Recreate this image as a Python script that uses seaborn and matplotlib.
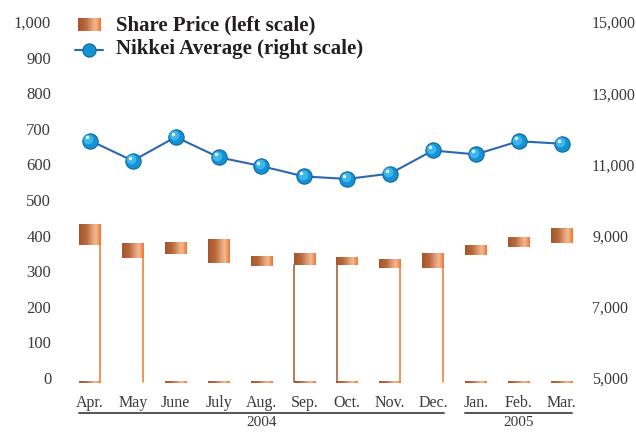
import numpy as np
import pandas as pd
import matplotlib
matplotlib.use('Agg')
import matplotlib.pyplot as plt
import seaborn as sns
from matplotlib.colors import LinearSegmentedColormap
from matplotlib.transforms import ScaledTranslation, blended_transform_factory

months = ['Apr.', 'May', 'June', 'July', 'Aug.', 'Sep.', 'Oct.', 'Nov.', 'Dec.', 'Jan.', 'Feb.', 'Mar.']
years = ['2004'] * 9 + ['2005'] * 3
price_low = [372, 338, 349, 324, 315, 318, 318, 310, 310, 346, 369, 380]
price_high = [430, 379, 382, 390, 343, 351, 340, 334, 351, 374, 396, 421]
nikkei = [11670, 11100, 11770, 11200, 10950, 10660, 10590, 10740, 11390, 11280, 11650, 11580]
# leftover outline pieces below each bar: l = left side, r = right side, b = base
outline = ['rb', 'r', 'b', 'b', 'b', 'lb', 'lb', 'rb', 'r', 'b', 'b', 'b']
left_ticks = list(range(0, 1001, 100))
right_ticks = list(range(5000, 15001, 2000))

BASE = -12
LINE_BLUE = '#2C68B0'
TEXT = '#3a3a3a'

copper = LinearSegmentedColormap.from_list('copper_grad', [
    (0.0, '#A4552B'), (0.35, '#B96B3F'), (0.6, '#E29D74'),
    (0.78, '#F4B995'), (0.9, '#EE9257'), (1.0, '#EE7630')])
grad = np.linspace(0, 1, 256).reshape(1, -1)

sns.set_theme(style='white')
plt.rcParams['font.family'] = ['Liberation Serif', 'DejaVu Serif']

fig = plt.figure(figsize=(6.36, 4.32), dpi=100)
ax = fig.add_axes([68.5 / 636, 47 / 432, 514.5 / 636, 363 / 432])

df = pd.DataFrame({'month': months, 'low': price_low, 'high': price_high})
df['range'] = df['high'] - df['low']
sns.barplot(data=df, x='month', y='range', bottom=df['low'].to_numpy(), width=0.5,
            color='#C07040', linewidth=0, ax=ax)

bars = list(ax.patches)
for bar, low, parts in zip(bars, price_low, outline):
    x0, y0 = bar.get_x(), bar.get_y()
    w, h = bar.get_width(), bar.get_height()
    ax.imshow(grad, extent=(x0, x0 + w, y0, y0 + h), cmap=copper, aspect='auto',
              interpolation='bilinear', zorder=2)
    bar.set_visible(False)
    if 'l' in parts:
        ax.plot([x0 + 0.01, x0 + 0.01], [BASE, low], color=copper(0.0), lw=1.1, zorder=2)
    if 'r' in parts:
        ax.plot([x0 + w - 0.01, x0 + w - 0.01], [BASE, low], color=copper(1.0), lw=1.1, zorder=2)
    if 'b' in parts:
        ax.imshow(grad, extent=(x0, x0 + w, BASE - 2.2, BASE + 2.2), cmap=copper,
                  aspect='auto', interpolation='bilinear', zorder=2)

ax.set_xlim(-0.5, 11.5)
ax.set_ylim(-20, 1000)
ax.set_yticks(left_ticks, ['{:,}'.format(v) for v in left_ticks])
ax.set_xticks(range(len(months)), months)
ax.tick_params(axis='y', length=0, pad=12.5, labelsize=12, labelcolor=TEXT)
ax.tick_params(axis='x', length=0, pad=7, labelsize=11.5, labelcolor=TEXT)
ax.set_xlabel('')
ax.set_ylabel('')
for s in ax.spines.values():
    s.set_visible(False)

# Nikkei on the right scale
ax2 = ax.twinx()
xs = np.arange(len(months))
sns.lineplot(x=xs, y=nikkei, ax=ax2, color=LINE_BLUE, lw=1.5, marker='o', markersize=11,
             markerfacecolor='#1592D2', markeredgecolor='#0B68A6', markeredgewidth=0.8)
off1 = ax2.transData + ScaledTranslation(-1.2 / 72, 1.2 / 72, fig.dpi_scale_trans)
off2 = ax2.transData + ScaledTranslation(-2.2 / 72, 2.2 / 72, fig.dpi_scale_trans)
ax2.plot(xs, nikkei, ls='none', marker='o', ms=7, color='#3DB6EC', mec='none', transform=off1)
ax2.plot(xs, nikkei, ls='none', marker='o', ms=2.5, color='#E6F6FE', mec='none', transform=off2)
ax2.set_xlim(-0.5, 11.5)
ax2.set_ylim(5000 + (-20) * 10, 15000)
ax2.set_yticks(right_ticks, ['{:,}'.format(v) for v in right_ticks])
ax2.tick_params(axis='y', length=0, pad=6.5, labelsize=11.5, labelcolor=TEXT)
ax2.set_xlabel('')
ax2.set_ylabel('')
for s in ax2.spines.values():
    s.set_visible(False)

# year groups under the month labels
trans = blended_transform_factory(ax.transData, ax.transAxes)
for yr in dict.fromkeys(years):
    idx = [i for i, y in enumerate(years) if y == yr]
    x0 = bars[idx[0]].get_x()
    x1 = bars[idx[-1]].get_x() + bars[idx[-1]].get_width()
    ax.plot([x0, x1], [-0.077, -0.077], transform=trans, clip_on=False, color='#555555', lw=1.4)
    ax.text((x0 + x1) / 2, -0.104, yr, transform=trans, ha='center', va='center',
            fontsize=11, color=TEXT)

# legend drawn by hand (gradient swatch + sphere marker)
lax = fig.add_axes([70 / 636, 1 - 60 / 432, 40 / 636, 60 / 432])
lax.axis('off')
lax.imshow(grad, extent=(78, 100.7, 31, 18), cmap=copper, aspect='auto', interpolation='bilinear')
lax.plot([75, 103], [50, 50], color=LINE_BLUE, lw=1.5)
lax.plot([89], [50], marker='o', ms=9.5, color='#1592D2', mec='#0B68A6', mew=0.8)
lax.set_xlim(70, 110)
lax.set_ylim(60, 0)
fig.text(116 / 636, 1 - 25 / 432, 'Share Price (left scale)', fontsize=15, fontweight='bold',
         va='center', color='#231f20')
fig.text(116 / 636, 1 - 49 / 432, 'Nikkei Average (right scale)', fontsize=15, fontweight='bold',
         va='center', color='#231f20')

fig.savefig('out.png', dpi=100)
